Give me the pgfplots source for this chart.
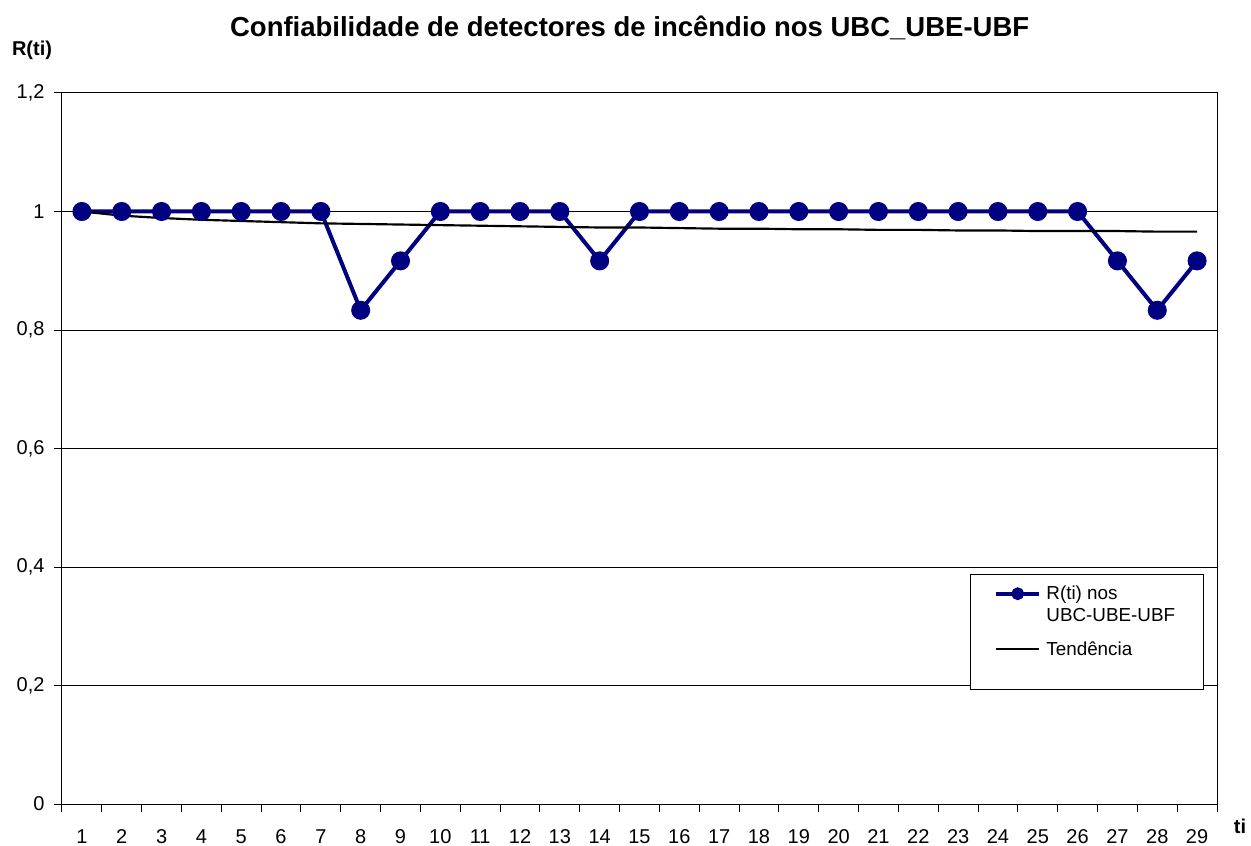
\documentclass[border=0pt]{standalone}
\usepackage{pgfplots}
\pgfplotsset{compat=1.18}
\usepackage{fontspec}
\setmainfont{Liberation Sans}
\definecolor{navyblue}{RGB}{0,0,128}
\begin{document}
\begin{tikzpicture}
\useasboundingbox (-37.2pt,-24.6pt) rectangle (713.4pt,482.4pt);
\begin{axis}[
  at={(0pt,0pt)}, anchor=south west,
  scale only axis, width=693pt, height=426.6pt,
  xmin=0.5, xmax=29.5, ymin=0, ymax=1.2,
  xtick={1,...,29},
  minor xtick={0.5,1.5,...,29.5},
  major x tick style={draw=none},
  minor tick length=5pt,
  ytick={0,0.2,...,1.2},
  major tick length=5pt,
  tick align=outside,
  xtick pos=bottom, ytick pos=left,
  tick style={black, line width=0.6pt},
  ymajorgrids,
  grid style={black, line width=0.6pt},
  axis line style={black, line width=0.6pt},
  yticklabel style={/pgf/number format/fixed, /pgf/number format/precision=1, /pgf/number format/use comma, xshift=-2pt},
  /pgf/number format/assume math mode=true,
  ticklabel style={font=\fontsize{12}{14}\selectfont},
  xticklabel style={yshift=-6pt, text height=9pt, text depth=2pt},
  legend style={at={(0.9887,0.3235)}, anchor=north east, draw=black, line width=0.6pt,
    font=\fontsize{11.3}{13.5}\selectfont, legend cell align=left,
    nodes={inner ysep=0pt, inner xsep=3pt, text height=9pt, text depth=2.5pt},
    row sep=1.7pt, inner xsep=14pt, inner ysep=5.8pt},
  clip=false,
]
\addplot[navyblue, line width=2.4pt, mark=*, mark size=4.5pt, mark options={fill=navyblue, draw=navyblue},
  legend image code/.code={\draw[navyblue,line width=2.4pt] (0pt,0pt) -- (26pt,0pt); \fill[navyblue] (13pt,0pt) circle (2.6pt);}] coordinates {
(1,1) (2,1) (3,1) (4,1) (5,1) (6,1) (7,1) (8,0.8333) (9,0.9167) (10,1)
(11,1) (12,1) (13,1) (14,0.9167) (15,1) (16,1) (17,1) (18,1) (19,1) (20,1)
(21,1) (22,1) (23,1) (24,1) (25,1) (26,1) (27,0.9167) (28,0.8333) (29,0.9167)
};
\addlegendentry{R(ti) nos}
\addlegendimage{empty legend}
\addlegendentry[text depth=9.7pt]{UBC-UBE-UBF\hspace{8pt}}
\addplot[black, line width=1.3pt,
  legend image code/.code={\draw[black,line width=1.3pt] (0pt,6.4pt) -- (26pt,6.4pt);}] coordinates {
(1,1.000) (2,0.993) (3,0.989) (4,0.986) (5,0.984) (6,0.982) (7,0.980) (8,0.979) (9,0.978) (10,0.977)
(11,0.976) (12,0.975) (13,0.974) (14,0.973) (15,0.973) (16,0.972) (17,0.971) (18,0.971) (19,0.970) (20,0.970)
(21,0.969) (22,0.969) (23,0.968) (24,0.968) (25,0.967) (26,0.967) (27,0.967) (28,0.966) (29,0.966)
};
\addlegendentry[text depth=14.6pt]{Tendência}
\end{axis}
\node[font=\bfseries\fontsize{16.5}{19}\selectfont] at (340.6pt,465.7pt) {Confiabilidade de detectores de incêndio nos UBC\_UBE-UBF};
\node[font=\bfseries\fontsize{12}{14}\selectfont] at (-18pt,452.4pt) {R(ti)};
\node[font=\bfseries\fontsize{12}{14}\selectfont] at (706.8pt,-13.2pt) {ti};
\end{tikzpicture}
\end{document}
